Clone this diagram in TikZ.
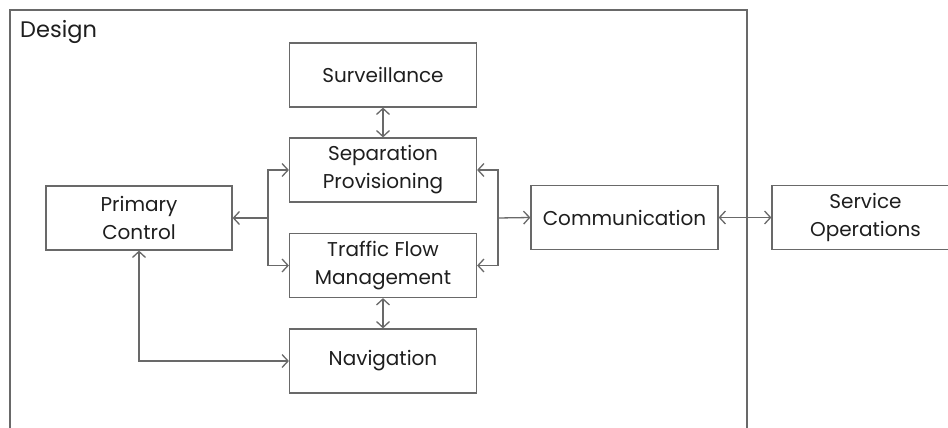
\documentclass[tikz,border=0pt]{standalone}
\usepackage{fontspec}
\setmainfont{Poppins}
\usetikzlibrary{arrows.meta}
\definecolor{edge}{RGB}{105,105,105}
\definecolor{ink}{RGB}{30,30,30}
\tikzset{
  block/.style={draw=edge, line width=1.2pt, minimum width=187pt, minimum height=64pt,
    inner sep=0pt, align=center, text=ink, font=\fontsize{20}{28}\selectfont},
  link/.style={draw=edge, line width=1.3pt, {Straight Barb[length=6pt,width=13pt]}-{Straight Barb[length=6pt,width=13pt]}},
  onelink/.style={draw=edge, line width=1.3pt, -{Straight Barb[length=6pt,width=13pt]}}
}
\begin{document}
\begin{tikzpicture}[x=1pt,y=-1pt]
\useasboundingbox (0,0) rectangle (948,428);
\clip (0,0) rectangle (948,428);
% outer frame of the design scope
\draw[edge, line width=1.3pt] (10,440) -- (10,10) -- (747,10) -- (747,440);
\node[anchor=north west, text=ink, font=\fontsize{22.5}{26}\selectfont, inner sep=0pt] (design) at (20,20) {Design};

\node[block] (surv) at (383,75) {Surveillance};
\node[block] (sep)  at (383,170) {Separation\\Provisioning};
\node[block] (tfm)  at (383,265.5) {Traffic Flow\\Management};
\node[block] (nav)  at (383,361) {Navigation};
\node[block, minimum width=186pt] (pc) at (139,218) {Primary\\Control};
\node[block] (comm) at (624.5,217.5) {Communication};
\node[block] (so)   at (865.5,217.5) {Service\\Operations};

% left bus
\coordinate (lb) at (268,218);
\draw[onelink] (lb) -- (pc.east);
\draw[onelink] (lb) |- (sep.west);
\draw[onelink] (lb) |- (tfm.west);
% right bus
\coordinate (rb) at (498,218);
\draw[onelink] (rb) -- (comm.west);
\draw[onelink] (rb) |- (sep.east);
\draw[onelink] (rb) |- (tfm.east);

\draw[link] (surv) -- (sep);
\draw[link] (tfm) -- (nav);
\draw[link] (comm) -- (so);
\draw[link] (pc.south) |- (nav.west);
\end{tikzpicture}
\end{document}
